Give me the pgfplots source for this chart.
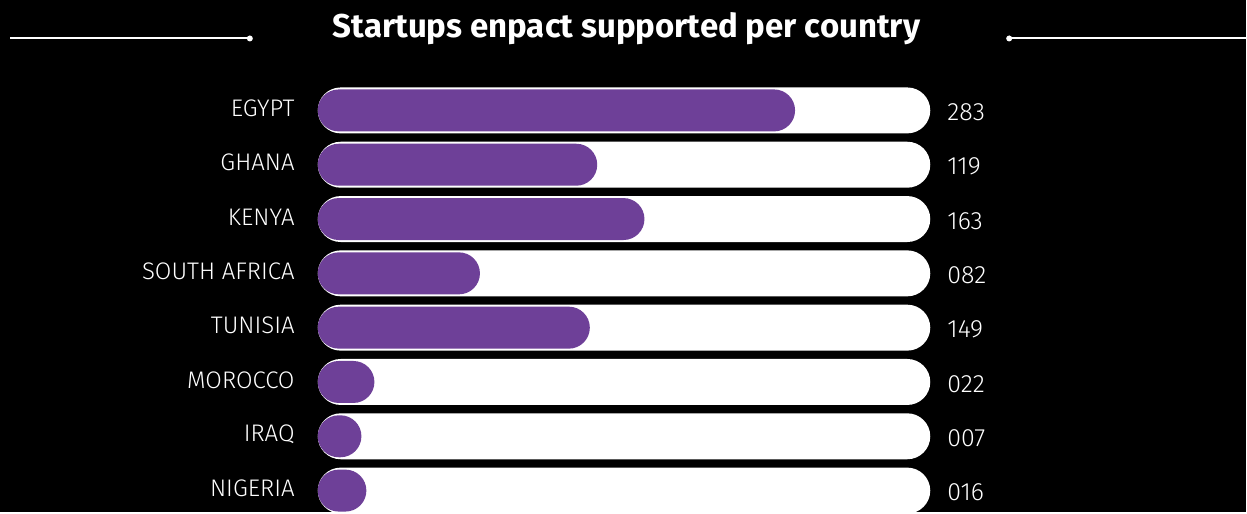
\documentclass[border=0pt]{standalone}
\usepackage{fontspec}
\setmainfont{Fira Sans}
\newfontfamily\lightfont{Fira Sans Light}
\usepackage{pgfplots}
\usepackage{pgfplotstable}
\pgfplotsset{compat=1.18}
\definecolor{barpurple}{RGB}{110,64,152}
\pgfplotstableread{
y track bar label
7 100 77.93 283
6 100 45.63 119
5 100 53.34 163
4 100 26.48 082
3 100 44.42 149
2 100 9.25 022
1 100 7.13 007
0 100 7.94 016
}\datatable
\begin{document}
\begin{tikzpicture}
\begin{axis}[
  width=1247pt, height=512pt, scale only axis,
  xmin=-51.876, xmax=151.55,
  ymin=-0.3863, ymax=9.0329,
  axis background/.style={fill=black},
  axis line style={draw=none},
  tick style={draw=none},
  major tick length=0pt,
  xtick=\empty,
  ytick={0,1,2,3,4,5,6,7},
  yticklabels={NIGERIA,IRAQ,MOROCCO,TUNISIA,SOUTH AFRICA,KENYA,GHANA,EGYPT},
  yticklabel style={anchor=east, inner sep=0pt, xshift=295pt, yshift=2pt,
    font=\lightfont\fontsize{24}{28}\selectfont, text=white},
  clip=false,
]
\addplot[xbar, bar width=46pt, bar shift=0pt, fill=white, draw=none,
  rounded corners=23pt,
  nodes near coords, point meta=explicit symbolic,
  every node near coord/.append style={anchor=west, inner sep=0pt, xshift=17pt, yshift=-2pt,
    font=\lightfont\fontsize{25}{29}\selectfont, text=white}]
  table[x=track, y=y, meta=label] {\datatable};
\addplot[xbar, bar width=42pt, bar shift=0pt, fill=barpurple, draw=none,
  rounded corners=21pt]
  table[x=bar, y=y] {\datatable};
\draw[white, line width=2pt] (rel axis cs:0.00802,0.9248) -- (rel axis cs:0.2005,0.9248);
\fill[white] (rel axis cs:0.2005,0.9248) circle (3pt);
\draw[white, line width=2pt] (rel axis cs:0.80994,0.9248) -- (rel axis cs:1,0.9248);
\fill[white] (rel axis cs:0.80994,0.9248) circle (3pt);
\node[anchor=base, inner sep=0pt, text=white, font=\bfseries\fontsize{33}{38}\selectfont]
  at (rel axis cs:0.5028,0.9258) {Startups enpact supported per country};
\end{axis}
\end{tikzpicture}
\end{document}
